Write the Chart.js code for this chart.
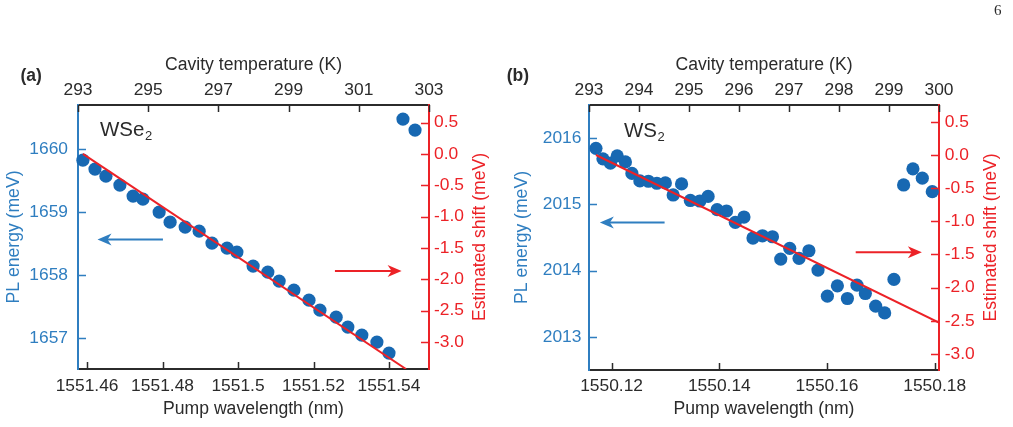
<!DOCTYPE html>
<html lang="en">
<head>
<meta charset="UTF-8">
<title>PL energy vs pump wavelength</title>
<script src="https://cdn.jsdelivr.net/npm/chart.js"></script>
<style>
  body { margin: 0; background: #fff; }
  #wrap { position: relative; width: 1013px; height: 427px; }
  canvas { position: absolute; top: 0; }
  #cA { left: 0; }
  #cB { left: 506px; }
</style>
</head>
<body>
<div id="wrap">
  <canvas id="cA" width="506" height="427"></canvas>
  <canvas id="cB" width="507" height="427"></canvas>
</div>
<script>
// ---- panel (a): WSe2 ----
const wlA = [1551.4589, 1551.4621, 1551.4650, 1551.4687, 1551.4722, 1551.4748, 1551.4791, 1551.4820,
             1551.4860, 1551.4897, 1551.4931, 1551.4971, 1551.4997, 1551.5040, 1551.5079, 1551.5109,
             1551.5148, 1551.5188, 1551.5217, 1551.5260, 1551.5291, 1551.5328, 1551.5368, 1551.5400,
             1551.5437, 1551.5469];
const plA = [1659.825, 1659.683, 1659.571, 1659.429, 1659.254, 1659.206, 1659.000, 1658.841,
             1658.762, 1658.698, 1658.508, 1658.429, 1658.365, 1658.143, 1658.048, 1657.905,
             1657.762, 1657.603, 1657.444, 1657.333, 1657.175, 1657.048, 1656.937, 1656.762,
             1660.476, 1660.302];
const fitWlA = [1551.4589, 1551.5445];
const fitShiftA = [0, -3.43];
const wlTicksA = [1551.46, 1551.48, 1551.5, 1551.52, 1551.54];
const tempTicksA = [293, 295, 297, 299, 301, 303];
const plTicksA = [1657, 1658, 1659, 1660];

// ---- panel (b): WS2 ----
const wlB = [1550.11709, 1550.11839, 1550.11978, 1550.12104, 1550.12256, 1550.12377, 1550.12525, 1550.12683,
             1550.12840, 1550.12998, 1550.13143, 1550.13299, 1550.13462, 1550.13638, 1550.13792, 1550.13959,
             1550.14134, 1550.14297, 1550.14458, 1550.14625, 1550.14801, 1550.14987, 1550.15141, 1550.15308,
             1550.15481, 1550.15664, 1550.15833, 1550.16007, 1550.16193, 1550.16379, 1550.16557, 1550.16712,
             1550.16904, 1550.17071, 1550.17243, 1550.17423, 1550.17596, 1550.17770, 1550.17955];
const plB = [2015.846, 2015.687, 2015.622, 2015.732, 2015.641, 2015.467, 2015.354, 2015.349,
             2015.319, 2015.324, 2015.142, 2015.309, 2015.059, 2015.051, 2015.120, 2014.920,
             2014.900, 2014.729, 2014.809, 2014.492, 2014.526, 2014.511, 2014.174, 2014.336,
             2014.185, 2014.300, 2014.008, 2013.614, 2013.770, 2013.579, 2013.781, 2013.655,
             2013.463, 2013.362, 2013.867, 2015.293, 2015.536, 2015.395, 2015.192];
const fitWlB = [1550.11709, 1550.18078];
const fitShiftB = [0, -2.529];
const wlTicksB = [1550.12, 1550.14, 1550.16, 1550.18];
const tempTicksB = [293, 294, 295, 296, 297, 298, 299, 300];
const plTicksB = [2013, 2014, 2015, 2016];

const shiftTicks = [0.5, 0, -0.5, -1, -1.5, -2, -2.5, -3];

const BLUE = '#2f7ec0', DOT = '#1768b2', RED = '#ec2227', INK = '#2b2b2b';
const FONT = '"Liberation Sans", Arial, Helvetica, sans-serif';
Chart.defaults.font.family = FONT;
Chart.defaults.color = INK;

// inward ticks, arrows, sample name, right-axis title, panel letter
const decor = {
  id: 'decor',
  afterDraw(chart, args, o) {
    const ctx = chart.ctx, a = chart.chartArea;
    const W = a.right - a.left, H = a.bottom - a.top;
    ctx.save();
    ['x', 'xt', 'y', 'y2'].forEach(id => {
      const s = chart.scales[id];
      ctx.strokeStyle = s.options.border.color;
      ctx.lineWidth = 1.5;
      ctx.beginPath();
      s.ticks.forEach(t => {
        const p = Math.round(s.getPixelForValue(t.value)) + 0.5;
        if (s.position === 'left') { ctx.moveTo(a.left, p); ctx.lineTo(a.left + 8, p); }
        else if (s.position === 'right') { ctx.moveTo(a.right, p); ctx.lineTo(a.right - 8, p); }
        else if (s.position === 'top') { ctx.moveTo(p, a.top); ctx.lineTo(p, a.top + 7); }
        else { ctx.moveTo(p, a.bottom); ctx.lineTo(p, a.bottom - 7); }
      });
      ctx.stroke();
    });

    o.arrows.forEach(ar => {
      const x0 = a.left + ar.x0 * W, x1 = a.left + ar.x1 * W, y = a.top + ar.y * H;
      const d = x1 > x0 ? 1 : -1;
      ctx.strokeStyle = ar.c; ctx.fillStyle = ar.c; ctx.lineWidth = 2;
      ctx.beginPath(); ctx.moveTo(x0, y); ctx.lineTo(x1 - d * 9, y); ctx.stroke();
      ctx.beginPath();
      ctx.moveTo(x1, y);
      ctx.lineTo(x1 - d * 14, y - 6);
      ctx.lineTo(x1 - d * 10, y);
      ctx.lineTo(x1 - d * 14, y + 6);
      ctx.closePath(); ctx.fill();
    });

    ctx.fillStyle = INK;
    ctx.textBaseline = 'alphabetic';
    ctx.textAlign = 'left';
    ctx.font = '20.5px ' + FONT;
    const lx = a.left + o.label.dx, ly = a.top + o.label.dy;
    ctx.fillText(o.label.main, lx, ly);
    const w = ctx.measureText(o.label.main).width;
    ctx.font = '13px ' + FONT;
    ctx.fillText(o.label.sub, lx + w + 0.5, ly + 4);

    ctx.font = 'bold 17.5px ' + FONT;
    ctx.fillText(o.letter.t, o.letter.x, o.letter.y);

    if (o.page) {
      ctx.font = '15px "Liberation Serif", "DejaVu Serif", serif';
      ctx.fillText(o.page.t, o.page.x, o.page.y);
    }

    ctx.translate(chart.width - o.rOff, (a.top + a.bottom) / 2);
    ctx.rotate(-Math.PI / 2);
    ctx.textAlign = 'center';
    ctx.textBaseline = 'middle';
    ctx.fillStyle = RED;
    ctx.font = '17.6px ' + FONT;
    ctx.fillText('Estimated shift (meV)', 0, 0);
    ctx.restore();
  }
};

function scale(pos, min, max, list, fmt, color, size, pad, title) {
  const horiz = pos === 'top' || pos === 'bottom';
  return {
    type: 'linear', position: pos, axis: horiz ? 'x' : 'y',
    min: min, max: max, bounds: 'data',
    grid: { display: false, drawTicks: false },
    border: { display: true, color: color, width: 2 },
    afterBuildTicks: s => { s.ticks = list.map(v => ({ value: v })); },
    afterFit: s => { if (horiz) s.height = size; else s.width = size; },
    ticks: { autoSkip: false, maxRotation: 0, minRotation: 0, padding: pad,
             color: color, font: { size: 17.4 }, callback: fmt },
    title: title || { display: false }
  };
}

function makePanel(id, p) {
  const pts = p.wl.map((w, i) => ({ x: w, y: p.pl[i] }));
  const fit = p.fitWl.map((w, i) => ({ x: w, y: p.fitShift[i] }));
  return new Chart(document.getElementById(id), {
    type: 'scatter',
    data: {
      datasets: [
        { data: fit, xAxisID: 'x', yAxisID: 'y2', showLine: true, borderColor: RED,
          borderWidth: 2, pointRadius: 0 },
        { data: pts, xAxisID: 'x', yAxisID: 'y', backgroundColor: DOT, pointBorderWidth: 0,
          pointRadius: 6.6, clip: false }
      ]
    },
    options: {
      responsive: false, animation: false, events: [],
      layout: { padding: 0 },
      plugins: { legend: { display: false }, tooltip: { enabled: false }, decor: p.decor },
      scales: {
        x: scale('bottom', p.xr[0], p.xr[1], p.wlTicks, v => String(v), INK, p.box.b, p.pad.b,
          { display: true, text: 'Pump wavelength (nm)', color: INK, font: { size: 17.6 }, padding: { top: 0, bottom: 7 } }),
        xt: scale('top', p.tr[0], p.tr[1], p.tempTicks, v => String(v), INK, p.box.t, 4,
          { display: true, text: 'Cavity temperature (K)', color: INK, font: { size: 17.6 }, padding: { top: 55, bottom: 0 } }),
        y: scale('left', p.yr[0], p.yr[1], p.plTicks, v => String(v), BLUE, p.box.l, p.pad.l,
          { display: true, text: 'PL energy (meV)', color: BLUE, font: { size: 17.6 }, padding: { top: p.pad.lt, bottom: 0 } }),
        y2: scale('right', p.sr[0], p.sr[1], shiftTicks, v => v.toFixed(1), RED, p.box.r, p.pad.r)
      }
    },
    plugins: [decor]
  });
}

makePanel('cA', {
  wl: wlA, pl: plA, fitWl: fitWlA, fitShift: fitShiftA,
  wlTicks: wlTicksA, tempTicks: tempTicksA, plTicks: plTicksA,
  xr: [1551.4576, 1551.5506], tr: [293, 303], yr: [1656.51, 1660.70], sr: [-3.43, 0.78],
  box: { l: 78, r: 77, t: 105, b: 58 },
  pad: { l: 10, r: 5, b: 7, lt: 3.4 },
  decor: {
    arrows: [{ x0: 0.242, x1: 0.0556, y: 0.509, c: BLUE }, { x0: 0.732, x1: 0.922, y: 0.629, c: RED }],
    label: { main: 'WSe', sub: '2', dx: 22, dy: 31 },
    letter: { t: '(a)', x: 20.5, y: 80.5 },
    rOff: 26
  }
});

makePanel('cB', {
  wl: wlB, pl: plB, fitWl: fitWlB, fitShift: fitShiftB,
  wlTicks: wlTicksB, tempTicks: tempTicksB, plTicks: plTicksB,
  xr: [1550.1158, 1550.1808], tr: [293, 300], yr: [2012.5, 2016.5], sr: [-3.243, 0.754],
  box: { l: 83, r: 74, t: 105, b: 57 },
  pad: { l: 7.6, r: 5.7, b: 6.1, lt: 5.4 },
  decor: {
    arrows: [{ x0: 0.216, x1: 0.031, y: 0.443, c: BLUE }, { x0: 0.762, x1: 0.951, y: 0.556, c: RED }],
    label: { main: 'WS', sub: '2', dx: 35, dy: 32 },
    letter: { t: '(b)', x: 0.7, y: 80.5 },
    page: { t: '6', x: 488, y: 15 },
    rOff: 21.5
  }
});
</script>
</body>
</html>
